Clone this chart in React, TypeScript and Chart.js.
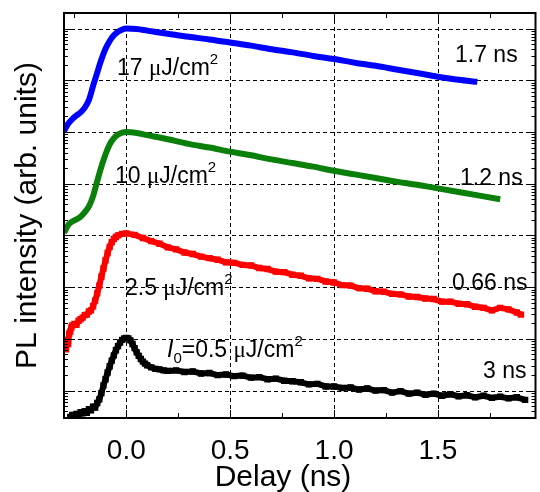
import React, { useEffect, useRef } from "react";
import { Chart, registerables } from "chart.js";

Chart.register(...registerables);

// ---------------- data (log10 of PL intensity, arb. units) ----------------
const blueX = [-0.30, -0.28, -0.26, -0.24, -0.22, -0.20, -0.18, -0.16, -0.14, -0.12, -0.10, -0.08, -0.06, -0.04, -0.02, 0.00,
  0.05, 0.10, 0.20, 0.30, 0.40, 0.50, 0.60, 0.70, 0.80, 0.90, 1.00, 1.10, 1.20, 1.30, 1.40, 1.50, 1.60, 1.69];
const blueLogI = [5.02, 5.16, 5.25, 5.32, 5.38, 5.47, 5.62, 5.89, 6.15, 6.40, 6.61, 6.76, 6.87, 6.94, 6.98, 7.00,
  6.99, 6.96, 6.90, 6.84, 6.79, 6.73, 6.67, 6.60, 6.54, 6.47, 6.41, 6.34, 6.28, 6.21, 6.14, 6.07, 6.01, 5.97];

const greenX = [-0.30, -0.28, -0.26, -0.24, -0.22, -0.20, -0.18, -0.16, -0.14, -0.12, -0.10, -0.08, -0.06, -0.04, -0.02, 0.00,
  0.05, 0.10, 0.20, 0.30, 0.40, 0.50, 0.60, 0.70, 0.80, 0.90, 1.00, 1.10, 1.20, 1.30, 1.40, 1.50, 1.60, 1.70, 1.80];
const greenLogI = [3.05, 3.20, 3.27, 3.31, 3.36, 3.45, 3.56, 3.76, 4.05, 4.33, 4.57, 4.76, 4.88, 4.95, 4.99, 5.00,
  4.98, 4.94, 4.86, 4.77, 4.70, 4.62, 4.55, 4.47, 4.40, 4.33, 4.25, 4.18, 4.11, 4.04, 3.98, 3.91, 3.84, 3.77, 3.70];

const redX = [-0.29, -0.285, -0.28, -0.275, -0.27, -0.265, -0.26, -0.25, -0.24, -0.23, -0.22, -0.21, -0.20, -0.19, -0.18,
  -0.17, -0.16, -0.15, -0.14, -0.13, -0.12, -0.11, -0.10, -0.09, -0.08, -0.07, -0.06, -0.05, -0.04, -0.02,
  0.00, 0.04, 0.08, 0.12, 0.16, 0.20, 0.24, 0.28, 0.32, 0.36, 0.40, 0.44, 0.48, 0.52, 0.56, 0.60, 0.64, 0.68, 0.72, 0.76,
  0.80, 0.84, 0.88, 0.92, 0.96, 1.00, 1.04, 1.08, 1.12, 1.16, 1.20, 1.24, 1.28, 1.32, 1.36, 1.40, 1.44, 1.48, 1.52, 1.56,
  1.60, 1.64, 1.68, 1.72, 1.76, 1.80, 1.84, 1.88, 1.90];
const redLogI = [0.80, 0.98, 0.90, 1.10, 1.14, 1.22, 1.26, 1.29, 1.27, 1.35, 1.38, 1.41, 1.46, 1.47, 1.53,
  1.55, 1.63, 1.74, 1.88, 2.03, 2.20, 2.36, 2.52, 2.66, 2.78, 2.87, 2.93, 2.97, 3.00, 3.03,
  3.04, 3.01, 2.95, 2.89, 2.84, 2.77, 2.73, 2.67, 2.64, 2.59, 2.56, 2.53, 2.48, 2.47, 2.43, 2.42, 2.37, 2.35, 2.30, 2.29,
  2.24, 2.22, 2.17, 2.16, 2.11, 2.09, 2.04, 2.03, 1.98, 1.97, 1.92, 1.91, 1.87, 1.86, 1.82, 1.81, 1.78, 1.77, 1.72, 1.72,
  1.68, 1.67, 1.62, 1.60, 1.55, 1.60, 1.57, 1.51, 1.47];

const blackX = [-0.27, -0.26, -0.25, -0.24, -0.23, -0.22, -0.21, -0.20, -0.19, -0.18, -0.17, -0.16, -0.15, -0.14, -0.13,
  -0.12, -0.11, -0.10, -0.09, -0.08, -0.07, -0.06, -0.05, -0.04, -0.03, -0.02, -0.01,
  0.00, 0.01, 0.02, 0.03, 0.04, 0.05, 0.06, 0.07, 0.08, 0.09, 0.10, 0.12, 0.14, 0.16, 0.18, 0.20,
  0.24, 0.28, 0.32, 0.36, 0.40, 0.44, 0.48, 0.52, 0.56, 0.60, 0.64, 0.68, 0.72, 0.76, 0.80, 0.84, 0.88, 0.92, 0.96, 1.00,
  1.04, 1.08, 1.12, 1.16, 1.20, 1.24, 1.28, 1.32, 1.36, 1.40, 1.44, 1.48, 1.52, 1.56, 1.60, 1.64, 1.68, 1.72, 1.76, 1.80,
  1.84, 1.88, 1.92];
const blackLogI = [-0.51, -0.47, -0.49, -0.45, -0.47, -0.42, -0.44, -0.40, -0.43, -0.36, -0.38, -0.31, -0.33, -0.24, -0.17,
  -0.05, 0.10, 0.22, 0.35, 0.47, 0.58, 0.68, 0.78, 0.86, 0.93, 0.98, 1.01,
  1.02, 1.01, 0.97, 0.90, 0.82, 0.74, 0.67, 0.61, 0.56, 0.52, 0.49, 0.45, 0.42, 0.41, 0.39, 0.38,
  0.39, 0.36, 0.37, 0.33, 0.34, 0.30, 0.31, 0.28, 0.29, 0.25, 0.26, 0.22, 0.23, 0.19, 0.18, 0.16, 0.12, 0.13, 0.08, 0.08,
  0.05, 0.06, 0.02, 0.04, 0.00, 0.01, -0.04, -0.01, -0.06, -0.04, -0.08, -0.06, -0.10, -0.07, -0.11, -0.09, -0.13, -0.10,
  -0.14, -0.12, -0.15, -0.13, -0.18];

const xMajorTicks = [0, 0.5, 1.0, 1.5];
const xMinorTicks = [-0.25, 0.25, 0.75, 1.25, 1.75];
const yDecades = [0.1, 1, 10, 100, 1e3, 1e4, 1e5, 1e6, 1e7];
const xTitle = "Delay (ns)";
const yTitle = "PL intensity (arb. units)";

const SANS = '"Liberation Sans", Arial, sans-serif';
const SERIF = '"Liberation Serif", "Times New Roman", serif';

type Run = { t: string; font: string; dy?: number };
const txt = (t: string): Run => ({ t, font: `23px ${SANS}` });
const mu = (): Run => ({ t: "\u03bc", font: `23px ${SERIF}` });
const sup = (t: string): Run => ({ t, font: `15px ${SANS}`, dy: -11 });
const sub = (t: string): Run => ({ t, font: `15px ${SANS}`, dy: 6 });

const annotations: { x: number; y: number; runs: Run[] }[] = [
  { x: 117, y: 75, runs: [txt("17 "), mu(), txt("J/cm"), sup("2")] },
  { x: 455, y: 62, runs: [txt("1.7 ns")] },
  { x: 115, y: 183, runs: [txt("10 "), mu(), txt("J/cm"), sup("2")] },
  { x: 460, y: 185, runs: [txt("1.2 ns")] },
  { x: 125, y: 295, runs: [txt("2.5 "), mu(), txt("J/cm"), sup("2")] },
  { x: 452, y: 290, runs: [txt("0.66 ns")] },
  { x: 167, y: 357, runs: [{ t: "I", font: `italic 23px ${SANS}` }, sub("0"), txt("=0.5 "), mu(), txt("J/cm"), sup("2")] },
  { x: 483, y: 378, runs: [txt("3 ns")] },
];

const toPoints = (xs: number[], logs: number[]) => xs.map((x, i) => ({ x, y: Math.pow(10, logs[i]) }));

const framePlugin = {
  id: "framePlugin",
  beforeDatasetsDraw(chart: any) {
    const { ctx, chartArea, scales } = chart;
    const { left, right, top, bottom } = chartArea;
    const xs = scales.x, ys = scales.y;
    ctx.save();
    ctx.strokeStyle = "#000";
    ctx.lineWidth = 1;
    ctx.setLineDash([4, 3]);
    for (const v of xMajorTicks) {
      const px = Math.round(xs.getPixelForValue(v)) + 0.5;
      ctx.beginPath();
      ctx.moveTo(px, top);
      ctx.lineTo(px, bottom);
      ctx.stroke();
    }
    for (const v of yDecades) {
      if (v < ys.min || v > ys.max) continue;
      const py = Math.round(ys.getPixelForValue(v)) + 0.5;
      ctx.beginPath();
      ctx.moveTo(left, py);
      ctx.lineTo(right, py);
      ctx.stroke();
    }
    ctx.restore();
  },
  afterDatasetsDraw(chart: any) {
    const { ctx, chartArea, scales } = chart;
    const { left, right, top, bottom } = chartArea;
    const xs = scales.x, ys = scales.y;
    ctx.save();
    ctx.strokeStyle = "#000";
    ctx.lineWidth = 1;
    const tick = (x1: number, y1: number, x2: number, y2: number) => {
      ctx.beginPath();
      ctx.moveTo(x1, y1);
      ctx.lineTo(x2, y2);
      ctx.stroke();
    };
    const MAJ = 8, MIN = 4;
    for (const v of xMajorTicks) {
      const px = Math.round(xs.getPixelForValue(v)) + 0.5;
      tick(px, top, px, top + MAJ);
      tick(px, bottom, px, bottom - MAJ);
    }
    for (const v of xMinorTicks) {
      const px = Math.round(xs.getPixelForValue(v)) + 0.5;
      tick(px, top, px, top + MIN + 1);
      tick(px, bottom, px, bottom - MIN - 1);
    }
    for (const d of yDecades) {
      if (d >= ys.min && d <= ys.max) {
        const py = Math.round(ys.getPixelForValue(d)) + 0.5;
        tick(left, py, left + MAJ, py);
        tick(right, py, right - MAJ, py);
      }
      for (let k = 2; k <= 9; k++) {
        const v = d * k;
        if (v < ys.min || v > ys.max) continue;
        const py = Math.round(ys.getPixelForValue(v)) + 0.5;
        tick(left, py, left + MIN, py);
        tick(right, py, right - MIN, py);
      }
    }
    ctx.lineWidth = 2;
    ctx.strokeRect(left, top, right - left, bottom - top);
    ctx.restore();
  },
  afterDraw(chart: any) {
    const { ctx } = chart;
    ctx.save();
    ctx.fillStyle = "#000";
    ctx.textBaseline = "alphabetic";
    ctx.textAlign = "left";
    for (const a of annotations) {
      let cx = a.x;
      for (const r of a.runs) {
        ctx.font = r.font;
        ctx.fillText(r.t, cx, a.y + (r.dy || 0));
        cx += ctx.measureText(r.t).width;
      }
    }
    // x-axis title (slightly left of the plot centre, as in the original)
    ctx.font = `30px ${SANS}`;
    ctx.textAlign = "center";
    ctx.textBaseline = "middle";
    ctx.fillText(xTitle, 283, 478);
    ctx.restore();
  },
};

export default function App() {
  const ref = useRef<HTMLCanvasElement | null>(null);
  useEffect(() => {
    document.body.style.margin = "0";
    const canvas = ref.current;
    if (!canvas) return;
    const markerSet = (color: string, width: number, radius: number, smooth: boolean) => ({
      borderColor: color,
      backgroundColor: color,
      borderWidth: width,
      pointRadius: radius,
      pointStyle: "rect",
      pointBackgroundColor: color,
      pointBorderWidth: 0,
      cubicInterpolationMode: smooth ? "monotone" : "default",
      borderJoinStyle: "round",
      fill: false,
    });
    const chart = new Chart(canvas, {
      type: "line",
      data: {
        datasets: [
          { label: "17", data: toPoints(blueX, blueLogI), ...markerSet("#0000ff", 6, 0, true) },
          { label: "10", data: toPoints(greenX, greenLogI), ...markerSet("#0a800a", 6, 0, true) },
          { label: "2.5", data: toPoints(redX, redLogI), ...markerSet("#ff0000", 6, 4.5, false) },
          { label: "0.5", data: toPoints(blackX, blackLogI), ...markerSet("#000000", 6, 4.5, false) },
        ] as any,
      },
      options: {
        responsive: false,
        animation: false,
        devicePixelRatio: 1,
        layout: { padding: { left: 0, right: 1, top: 13, bottom: 0 } },
        plugins: { legend: { display: false }, tooltip: { enabled: false } },
        scales: {
          x: {
            type: "linear",
            min: -0.3,
            max: 1.97,
            afterFit: (s: any) => { s.height = 74; },
            grid: { display: false },
            border: { display: false },
            ticks: {
              stepSize: 0.5,
              includeBounds: false,
              padding: 8,
              color: "#000",
              maxRotation: 0,
              autoSkip: false,
              font: { family: SANS, size: 28 },
              callback: (v: any) => Number(v).toFixed(1),
            },
            title: { display: false, text: xTitle },
          },
          y: {
            type: "logarithmic",
            min: 0.295,
            max: 2.0e7,
            afterFit: (s: any) => { s.width = 64; },
            grid: { display: false },
            border: { display: false },
            ticks: { display: false },
            title: {
              display: true,
              text: yTitle,
              color: "#000",
              font: { family: SANS, size: 30 },
              padding: { top: 10, bottom: 0 },
            },
          },
        },
      } as any,
      plugins: [framePlugin],
    });
    return () => chart.destroy();
  }, []);
  return <canvas ref={ref} width={540} height={492} style={{ display: "block", width: 540, height: 492 }} />;
}
